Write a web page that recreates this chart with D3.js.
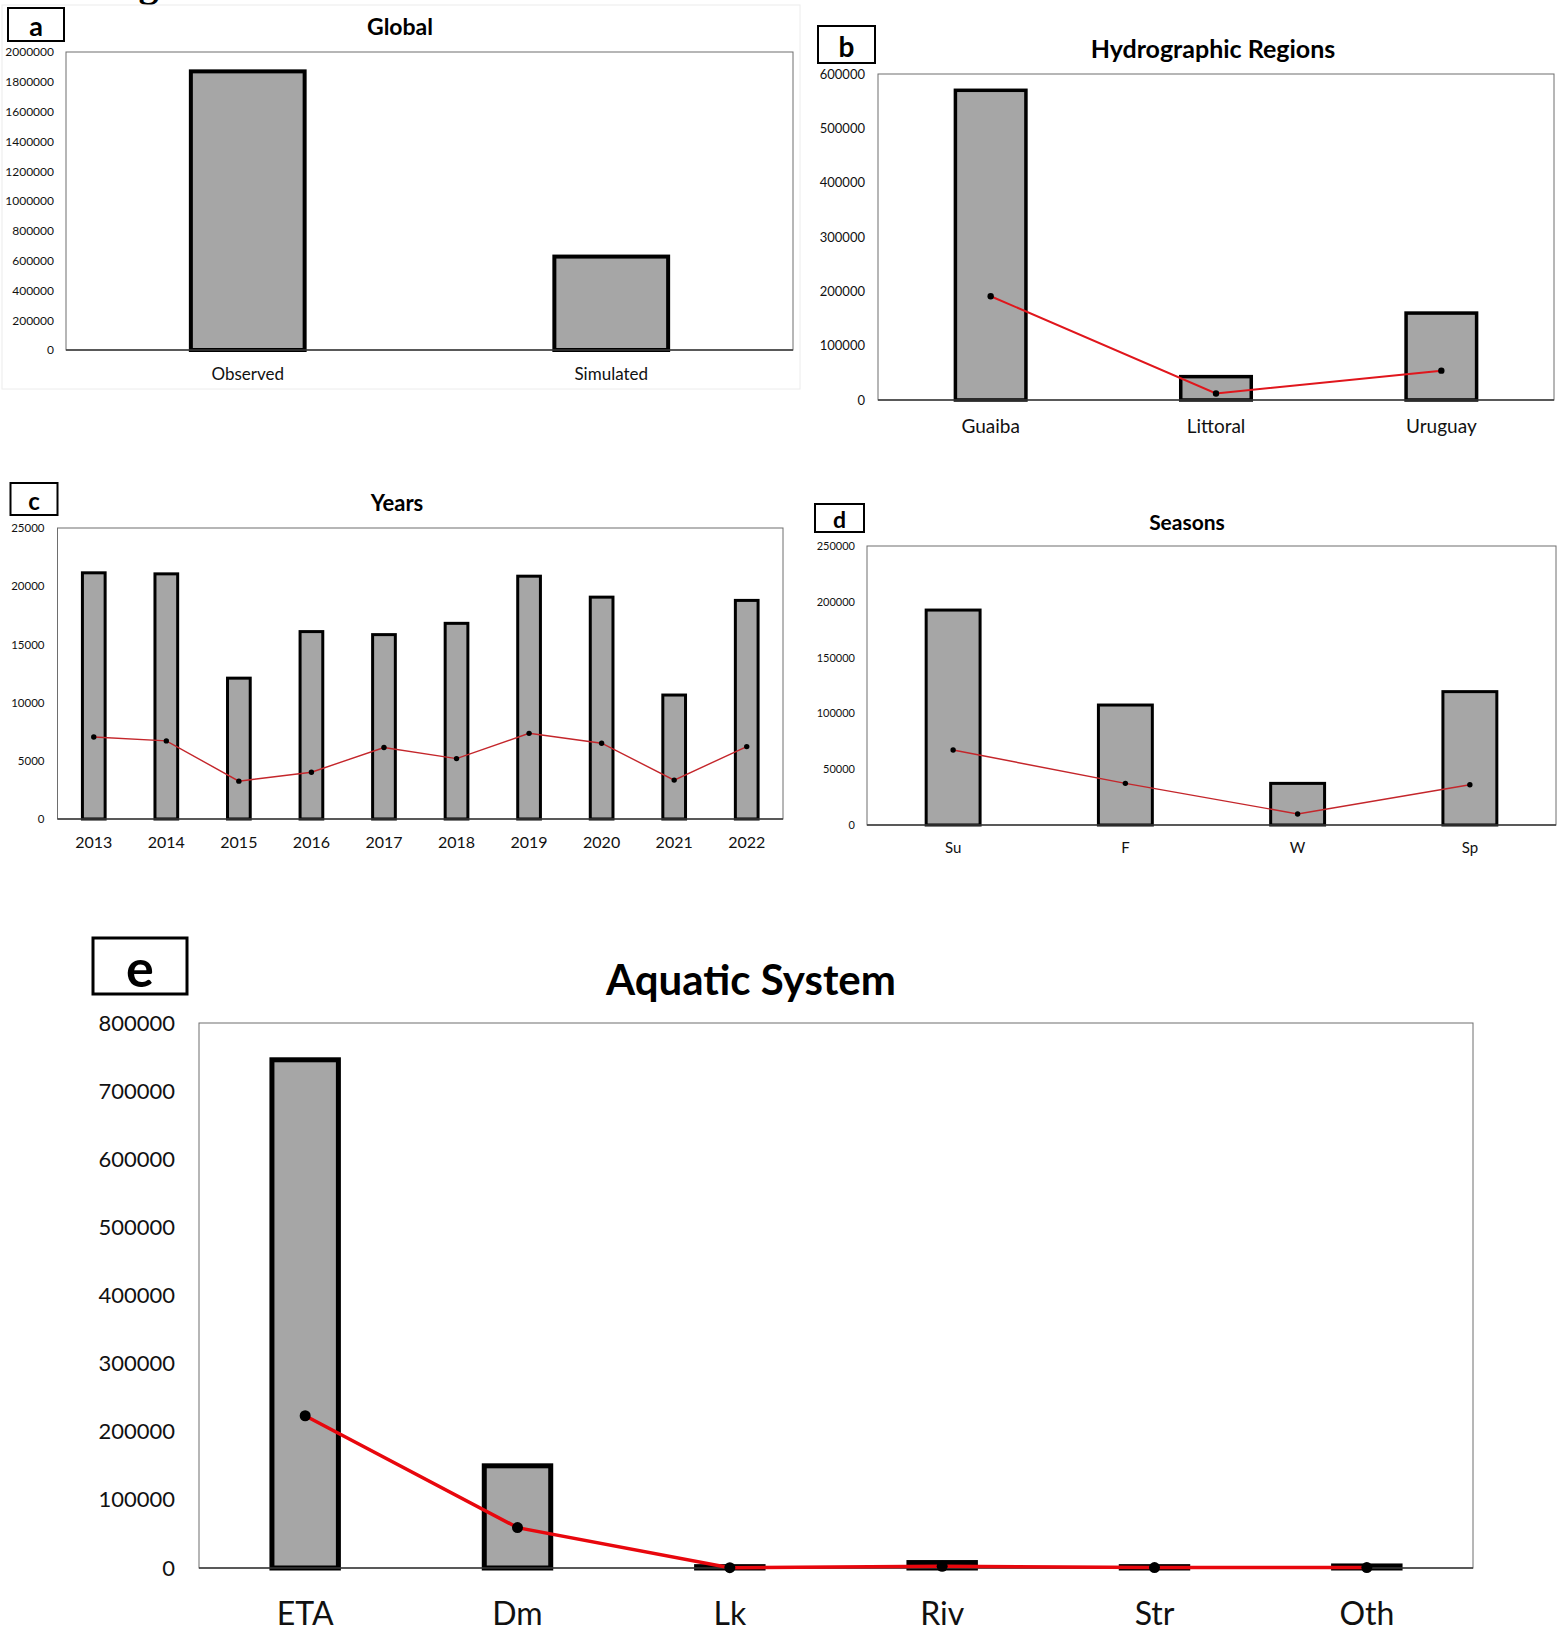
<!DOCTYPE html>
<html>
<head>
<meta charset="utf-8">
<script src="https://cdn.jsdelivr.net/npm/d3@7"></script>
<style>
  body { margin: 0; background: #fff; }
  svg { display: block; font-family: Lato, "Open Sans", sans-serif; }
</style>
</head>
<body>
<div id="chart"></div>
<script>
// data
var globalCats = ["Observed", "Simulated"];
var globalObs = [1870000, 627000];
var globalTicks = d3.range(0, 2000001, 200000);

var regionCats = ["Guaiba", "Littoral", "Uruguay"];
var regionObs = [570000, 43000, 160000];
var regionSim = [191000, 12000, 54000];
var regionTicks = d3.range(0, 600001, 100000);

var yearCats = ["2013", "2014", "2015", "2016", "2017", "2018", "2019", "2020", "2021", "2022"];
var yearObs = [21150, 21060, 12100, 16100, 15840, 16810, 20860, 19060, 10650, 18780];
var yearSim = [7050, 6710, 3250, 4020, 6140, 5190, 7360, 6510, 3340, 6220];
var yearTicks = d3.range(0, 25001, 5000);

var seasonCats = ["Su", "F", "W", "Sp"];
var seasonObs = [192600, 107500, 37300, 119500];
var seasonSim = [67200, 37300, 9900, 36100];
var seasonTicks = d3.range(0, 250001, 50000);

var aquaCats = ["ETA", "Dm", "Lk", "Riv", "Str", "Oth"];
var aquaObs = [746000, 150000, 2000, 8000, 2000, 3000];
var aquaSim = [223500, 59300, 400, 2500, 600, 600];
var aquaTicks = d3.range(0, 800001, 100000);

var svg = d3.select("#chart").append("svg")
  .attr("width", 1559)
  .attr("height", 1640);

// cut-off figure caption at the very top
svg.append("text")
  .attr("x", 103).attr("y", -4)
  .attr("font-family", "Liberation Serif")
  .attr("font-weight", "bold")
  .attr("font-size", 40)
  .text("Figure");

// faint frame round panel a
svg.append("rect")
  .attr("x", 2).attr("y", 5).attr("width", 798).attr("height", 384)
  .attr("fill", "none").attr("stroke", "#ececec");

function drawPanel(p) {
  var g = svg.append("g");

  var x = d3.scaleBand()
    .domain(p.cats)
    .range([p.left, p.right])
    .paddingInner(0.687)
    .paddingOuter(0.3435);

  var y = d3.scaleLinear()
    .domain([0, p.max])
    .range([p.bottom, p.top]);

  // plot frame
  g.append("rect")
    .attr("x", p.left).attr("y", p.top)
    .attr("width", p.right - p.left).attr("height", p.bottom - p.top)
    .attr("fill", "none").attr("stroke", "#6e6e6e").attr("stroke-width", 1);

  // y axis labels
  var yAxis = d3.axisLeft(y).tickValues(p.ticks).tickSize(0).tickPadding(p.tickPad)
    .tickFormat(d3.format("d"));
  var ya = g.append("g")
    .attr("transform", `translate(${p.left},0)`)
    .call(yAxis);
  ya.select(".domain").remove();
  ya.selectAll("text")
    .attr("font-size", p.tickFont)
    .attr("font-family", "Lato")
    .attr("fill", "#111");

  // x axis labels
  var xAxis = d3.axisBottom(x).tickSize(0).tickPadding(p.catPad);
  var xa = g.append("g")
    .attr("transform", `translate(0,${p.bottom})`)
    .call(xAxis);
  xa.select(".domain").remove();
  xa.selectAll("text")
    .attr("font-size", p.catFont)
    .attr("font-family", "Lato")
    .attr("fill", "#111");

  // bars
  g.selectAll("rect.bar")
    .data(p.obs)
    .enter()
    .append("rect")
    .attr("class", "bar")
    .attr("x", (d, i) => x(p.cats[i]))
    .attr("y", d => y(d))
    .attr("width", x.bandwidth())
    .attr("height", d => p.bottom - y(d))
    .attr("fill", "#a6a6a6")
    .attr("stroke", "#000")
    .attr("stroke-width", p.barStroke);

  // bottom axis line
  g.append("line")
    .attr("x1", p.left).attr("x2", p.right)
    .attr("y1", p.bottom).attr("y2", p.bottom)
    .attr("stroke", "#3a3a3a").attr("stroke-width", 1.5);

  // simulated line
  if (p.sim) {
    var line = d3.line()
      .x((d, i) => x(p.cats[i]) + x.bandwidth() / 2)
      .y(d => y(d));
    g.append("path")
      .datum(p.sim)
      .attr("d", line)
      .attr("fill", "none")
      .attr("stroke", p.lineColor)
      .attr("stroke-width", p.lineWidth);
    g.selectAll("circle.pt")
      .data(p.sim)
      .enter()
      .append("circle")
      .attr("class", "pt")
      .attr("cx", (d, i) => x(p.cats[i]) + x.bandwidth() / 2)
      .attr("cy", d => y(d))
      .attr("r", p.dot)
      .attr("fill", "#000");
  }

  // title
  g.append("text")
    .attr("x", p.titleX).attr("y", p.titleY)
    .attr("text-anchor", "middle")
    .attr("dominant-baseline", "central")
    .attr("font-weight", "bold")
    .attr("font-size", p.titleFont)
    .text(p.title);

  // panel letter box
  var b = p.box;
  g.append("rect")
    .attr("x", b[0]).attr("y", b[1]).attr("width", b[2]).attr("height", b[3])
    .attr("fill", "#fff").attr("stroke", "#000").attr("stroke-width", p.boxStroke);
  g.append("text")
    .attr("x", b[0] + b[2] / 2).attr("y", b[1] + b[3] / 2 + 1)
    .attr("text-anchor", "middle")
    .attr("dominant-baseline", "central")
    .attr("font-weight", "bold")
    .attr("font-size", p.letterFont)
    .text(p.letter);
}

drawPanel({
  cats: globalCats, obs: globalObs, sim: null, max: 2000000, ticks: globalTicks,
  left: 66, right: 793, top: 52, bottom: 350,
  tickFont: 12, tickPad: 12, catFont: 17, catPad: 18, barStroke: 4,
  title: "Global", titleX: 400, titleY: 26, titleFont: 23,
  letter: "a", box: [8, 8, 56, 33], boxStroke: 2, letterFont: 27
});

drawPanel({
  cats: regionCats, obs: regionObs, sim: regionSim, max: 600000, ticks: regionTicks,
  left: 878, right: 1554, top: 74, bottom: 400,
  tickFont: 13, tickPad: 13, catFont: 19, catPad: 20, barStroke: 3.5,
  lineColor: "#e0161c", lineWidth: 2, dot: 3.2,
  title: "Hydrographic Regions", titleX: 1213, titleY: 48, titleFont: 25,
  letter: "b", box: [818, 26, 57, 37], boxStroke: 2, letterFont: 28
});

drawPanel({
  cats: yearCats, obs: yearObs, sim: yearSim, max: 25000, ticks: yearTicks,
  left: 57.5, right: 783, top: 528, bottom: 819,
  tickFont: 11.5, tickPad: 13, catFont: 16, catPad: 18, barStroke: 3,
  lineColor: "#c4262b", lineWidth: 1.4, dot: 2.7,
  title: "Years", titleX: 397, titleY: 502, titleFont: 22,
  letter: "c", box: [10.5, 483, 47, 32], boxStroke: 2, letterFont: 24
});

drawPanel({
  cats: seasonCats, obs: seasonObs, sim: seasonSim, max: 250000, ticks: seasonTicks,
  left: 867, right: 1556, top: 546, bottom: 825,
  tickFont: 11, tickPad: 12, catFont: 15, catPad: 17, barStroke: 3,
  lineColor: "#c4262b", lineWidth: 1.4, dot: 2.7,
  title: "Seasons", titleX: 1187, titleY: 521, titleFont: 21,
  letter: "d", box: [815, 504, 49, 28], boxStroke: 2, letterFont: 23
});

drawPanel({
  cats: aquaCats, obs: aquaObs, sim: aquaSim, max: 800000, ticks: aquaTicks,
  left: 199, right: 1473, top: 1023, bottom: 1568,
  tickFont: 22, tickPad: 24, catFont: 32, catPad: 34, barStroke: 5,
  lineColor: "#e8070d", lineWidth: 3.5, dot: 5.5,
  title: "Aquatic System", titleX: 751, titleY: 979, titleFont: 42,
  letter: "e", box: [93, 938, 94, 56], boxStroke: 3, letterFont: 52
});
</script>
</body>
</html>
